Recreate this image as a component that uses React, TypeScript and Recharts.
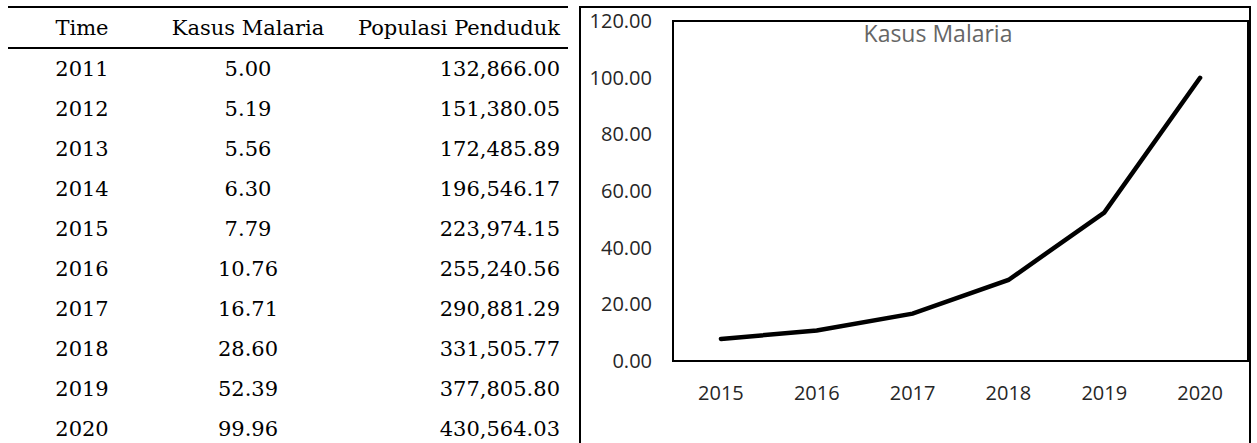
import React from "react";
import { LineChart, Line, XAxis, YAxis, ReferenceArea } from "recharts";

const years = ["2011", "2012", "2013", "2014", "2015", "2016", "2017", "2018", "2019", "2020"];
const kasusMalaria = [5.0, 5.19, 5.56, 6.3, 7.79, 10.76, 16.71, 28.6, 52.39, 99.96];
const populasiPenduduk = [
  132866.0, 151380.05, 172485.89, 196546.17, 223974.15, 255240.56, 290881.29, 331505.77,
  377805.8, 430564.03,
];
const chartYears = ["2015", "2016", "2017", "2018", "2019", "2020"];
const yTicks = [0, 20, 40, 60, 80, 100, 120];

const chartData = chartYears.map((year) => ({
  year,
  kasus: kasusMalaria[years.indexOf(year)],
}));

const fmt = (v: number) =>
  v.toLocaleString("en-US", { minimumFractionDigits: 2, maximumFractionDigits: 2 });

const serif = "'DejaVu Serif', serif";
const sans = "'Open Sans', sans-serif";

const cell = (width: number, align: "center" | "right", extra?: React.CSSProperties) => ({
  width,
  textAlign: align,
  ...extra,
});

function DataTable() {
  return (
    <div
      style={{
        position: "absolute",
        left: 8,
        top: 6,
        width: 560,
        fontFamily: serif,
        fontSize: 21,
        color: "#000",
        borderTop: "2px solid #000",
      }}
    >
      <div
        style={{
          display: "flex",
          height: 39,
          alignItems: "center",
          borderBottom: "2px solid #000",
        }}
      >
        <div style={cell(148, "center")}>Time</div>
        <div style={cell(184, "center")}>Kasus Malaria</div>
        <div style={cell(228, "right", { paddingRight: 8, boxSizing: "border-box" })}>
          Populasi Penduduk
        </div>
      </div>
      {years.map((year, i) => (
        <div key={year} style={{ display: "flex", height: 40, alignItems: "center" }}>
          <div style={cell(148, "center")}>{year}</div>
          <div style={cell(184, "center")}>{fmt(kasusMalaria[i])}</div>
          <div style={cell(228, "right", { paddingRight: 8, boxSizing: "border-box" })}>
            {fmt(populasiPenduduk[i])}
          </div>
        </div>
      ))}
    </div>
  );
}

function MalariaChart() {
  return (
    <div style={{ position: "absolute", left: 579, top: 6, width: 678, height: 460 }}>
      {/* outer chart border */}
      <div
        style={{
          position: "absolute",
          left: 0,
          top: 0,
          width: 672,
          height: 460,
          border: "2px solid #000",
          boxSizing: "border-box",
        }}
      />
      <div style={{ position: "absolute", left: 0, top: -6 }}>
        <LineChart
          width={678}
          height={443}
          data={chartData}
          margin={{ top: 21, right: 9, left: 0, bottom: 0 }}
        >
          <XAxis
            dataKey="year"
            scale="band"
            axisLine={false}
            tickLine={false}
            tickSize={0}
            tickMargin={25}
            height={82}
            tick={{ fill: "#262626", fontSize: 20, fontFamily: sans }}
          />
          <YAxis
            domain={[0, 120]}
            ticks={yTicks}
            tickFormatter={(v: number) => v.toFixed(2)}
            axisLine={false}
            tickLine={false}
            tickSize={0}
            tickMargin={21}
            width={94}
            tick={{ fill: "#262626", fontSize: 20, fontFamily: sans }}
          />
          <ReferenceArea y1={0} y2={120} fill="none" stroke="#000" strokeWidth={2} ifOverflow="visible" />
          <Line
            type="linear"
            dataKey="kasus"
            stroke="#000"
            strokeWidth={4.5}
            strokeLinecap="round"
            dot={false}
            isAnimationActive={false}
          />
        </LineChart>
      </div>
      <div
        style={{
          position: "absolute",
          left: 359,
          top: 27,
          transform: "translate(-50%, -50%)",
          fontFamily: sans,
          fontSize: 23,
          color: "#666",
          whiteSpace: "nowrap",
        }}
      >
        Kasus Malaria
      </div>
    </div>
  );
}

export default function App() {
  return (
    <div
      style={{
        position: "fixed",
        left: 0,
        top: 0,
        width: 1257,
        height: 443,
        overflow: "hidden",
        background: "#fff",
      }}
    >
      <DataTable />
      <MalariaChart />
    </div>
  );
}
